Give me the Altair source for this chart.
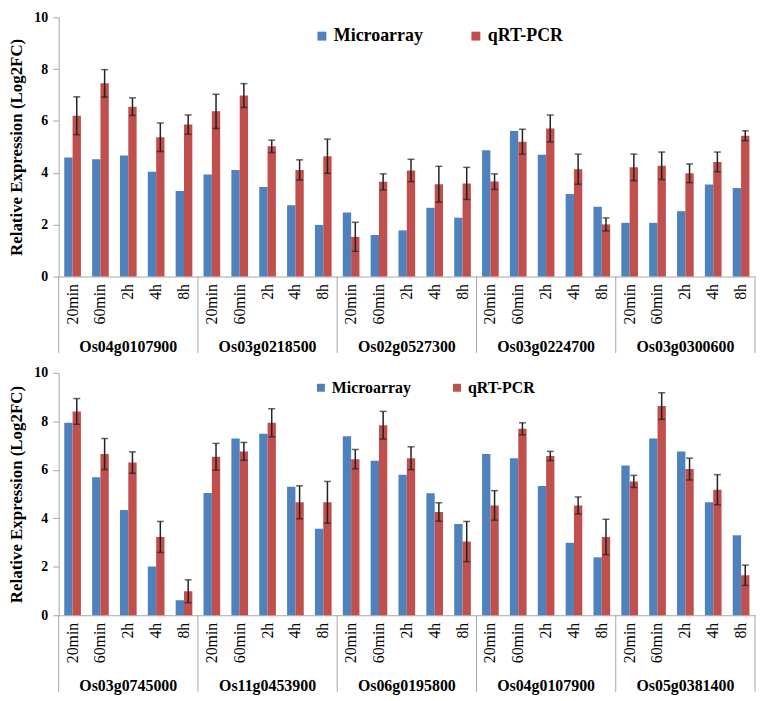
import altair as alt
import pandas as pd

times = ["20min", "60min", "2h", "4h", "8h"]
series = ["Microarray", "qRT-PCR"]
colors = ["#4F81BD", "#C0504D"]

genes_top = ["Os04g0107900", "Os03g0218500", "Os02g0527300", "Os03g0224700", "Os03g0300600"]
micro_top = [4.59, 4.52, 4.67, 4.04, 3.30,
             3.93, 4.11, 3.45, 2.75, 1.99,
             2.47, 1.60, 1.78, 2.65, 2.27,
             4.87, 5.61, 4.70, 3.18, 2.69,
             2.07, 2.07, 2.52, 3.55, 3.41]
qpcr_top = [6.20, 7.45, 6.55, 5.37, 5.86,
            6.37, 6.98, 5.02, 4.11, 4.64,
            1.53, 3.65, 4.09, 3.56, 3.59,
            3.66, 5.20, 5.71, 4.14, 2.01,
            4.21, 4.27, 3.98, 4.42, 5.43]
err_top = [0.73, 0.53, 0.34, 0.55, 0.37,
           0.66, 0.46, 0.24, 0.39, 0.66,
           0.56, 0.31, 0.43, 0.69, 0.62,
           0.30, 0.48, 0.52, 0.58, 0.25,
           0.51, 0.53, 0.36, 0.38, 0.19]

genes_bottom = ["Os03g0745000", "Os11g0453900", "Os06g0195800", "Os04g0107900", "Os05g0381400"]
micro_bottom = [7.94, 5.69, 4.34, 2.01, 0.62,
                5.04, 7.29, 7.49, 5.30, 3.57,
                7.38, 6.37, 5.80, 5.03, 3.76,
                6.65, 6.48, 5.33, 2.99, 2.39,
                6.18, 7.29, 6.76, 4.66, 3.30]
qpcr_bottom = [8.41, 6.65, 6.30, 3.23, 0.99,
               6.54, 6.76, 7.94, 4.66, 4.66,
               6.44, 7.84, 6.48, 4.26, 3.04,
               4.53, 7.69, 6.57, 4.53, 3.23,
               5.52, 8.63, 6.03, 5.18, 1.65]
err_bottom = [0.53, 0.64, 0.44, 0.64, 0.47,
              0.55, 0.37, 0.58, 0.68, 0.86,
              0.40, 0.57, 0.47, 0.38, 0.83,
              0.61, 0.25, 0.19, 0.35, 0.73,
              0.25, 0.55, 0.45, 0.62, 0.42]

FONT = "Liberation Serif"
GREY = "#a6a6a6"
W = 701


def panel(genes, micro, qpcr, err, H, lx, ly, lfont, lsym, lpad):
    keys = [f"{g}|{t}" for g in genes for t in times]
    bars = pd.DataFrame({
        "key": keys * 2,
        "series": ["Microarray"] * len(keys) + ["qRT-PCR"] * len(keys),
        "value": micro + qpcr,
    })
    errs = pd.DataFrame({
        "key": keys,
        "series": ["qRT-PCR"] * len(keys),
        "lo": [v - e for v, e in zip(qpcr, err)],
        "hi": [v + e for v, e in zip(qpcr, err)],
    })
    gene_df = pd.DataFrame({"gene": genes, "key": [f"{g}|2h" for g in genes]})
    starts = pd.DataFrame({"key": [f"{g}|20min" for g in genes]})
    ends = pd.DataFrame({"key": [f"{genes[-1]}|8h"]})

    xscale = alt.Scale(domain=keys, paddingInner=0, paddingOuter=0)
    xaxis = alt.Axis(title=None, labelExpr="split(datum.value, '|')[1]", labelAngle=-90,
                     labelFont=FONT, labelFontSize=16, labelColor="black", labelPadding=7,
                     ticks=False, domainColor=GREY, grid=False)
    yscale = alt.Scale(domain=[0, 10], nice=False)
    yaxis = alt.Axis(title="Relative Expression (Log2FC)", titleFont=FONT, titleFontSize=17,
                     titleFontWeight="bold", titleColor="black", titlePadding=8,
                     values=[0, 2, 4, 6, 8, 10], labelFont=FONT, labelFontSize=14,
                     labelFontWeight="bold", labelColor="black", labelPadding=5,
                     tickSize=6, tickColor=GREY, domainColor=GREY, grid=False)
    xo = alt.XOffset("series:N", scale=alt.Scale(domain=series, paddingInner=0, paddingOuter=0.67))

    def X(**kw):
        return alt.X("key:N", scale=xscale, axis=xaxis, sort=keys, **kw)

    bar = alt.Chart(bars).mark_bar().encode(
        x=X(),
        xOffset=xo,
        y=alt.Y("value:Q", scale=yscale, axis=yaxis),
        color=alt.Color("series:N", scale=alt.Scale(domain=series, range=colors),
                        legend=alt.Legend(title=None, orient="none", legendX=lx, legendY=ly,
                                          direction="horizontal", symbolType="square",
                                          symbolSize=lsym, symbolStrokeWidth=0,
                                          labelFont=FONT, labelFontSize=lfont,
                                          labelFontWeight="bold", labelColor="black",
                                          labelOffset=3, columnPadding=lpad, padding=0)),
    )
    rule = alt.Chart(errs).mark_rule(color="#222222", strokeWidth=1.5).encode(
        x=X(), xOffset=xo,
        y=alt.Y("lo:Q", scale=yscale, axis=yaxis), y2="hi:Q",
    )
    cap_hi = alt.Chart(errs).mark_tick(color="#222222", size=7, thickness=1.5).encode(
        x=X(), xOffset=xo, y=alt.Y("hi:Q", scale=yscale, axis=yaxis),
    )
    cap_lo = alt.Chart(errs).mark_tick(color="#222222", size=7, thickness=1.5).encode(
        x=X(), xOffset=xo, y=alt.Y("lo:Q", scale=yscale, axis=yaxis),
    )
    div = alt.Chart(starts).mark_rule(color=GREY, strokeWidth=1).encode(
        x=X(bandPosition=0), y=alt.value(H), y2=alt.value(H + 77),
    )
    div_end = alt.Chart(ends).mark_rule(color=GREY, strokeWidth=1).encode(
        x=X(bandPosition=1), y=alt.value(H), y2=alt.value(H + 77),
    )
    names = alt.Chart(gene_df).mark_text(font=FONT, fontSize=16, fontWeight="bold",
                                         color="black", baseline="middle").encode(
        x=X(), y=alt.value(H + 71), text="gene:N",
    )
    return alt.layer(bar, rule, cap_hi, cap_lo, div, div_end, names).properties(width=W, height=H)


top = panel(genes_top, micro_top, qpcr_top, err_top, 261, 256, 10, 18, 81, 44)
bottom = panel(genes_bottom, micro_bottom, qpcr_bottom, err_bottom, 244, 256, 7, 16, 64, 38)

chart = alt.vconcat(top, bottom, spacing=97, bounds="flush").resolve_scale(
    color="independent", x="independent", xOffset="independent"
).resolve_legend(color="independent").properties(
    padding={"left": 0, "top": 0, "right": 0, "bottom": 0}
).configure_view(stroke=None)

chart.save("out.html", embed_options={"renderer": "svg", "actions": False})
